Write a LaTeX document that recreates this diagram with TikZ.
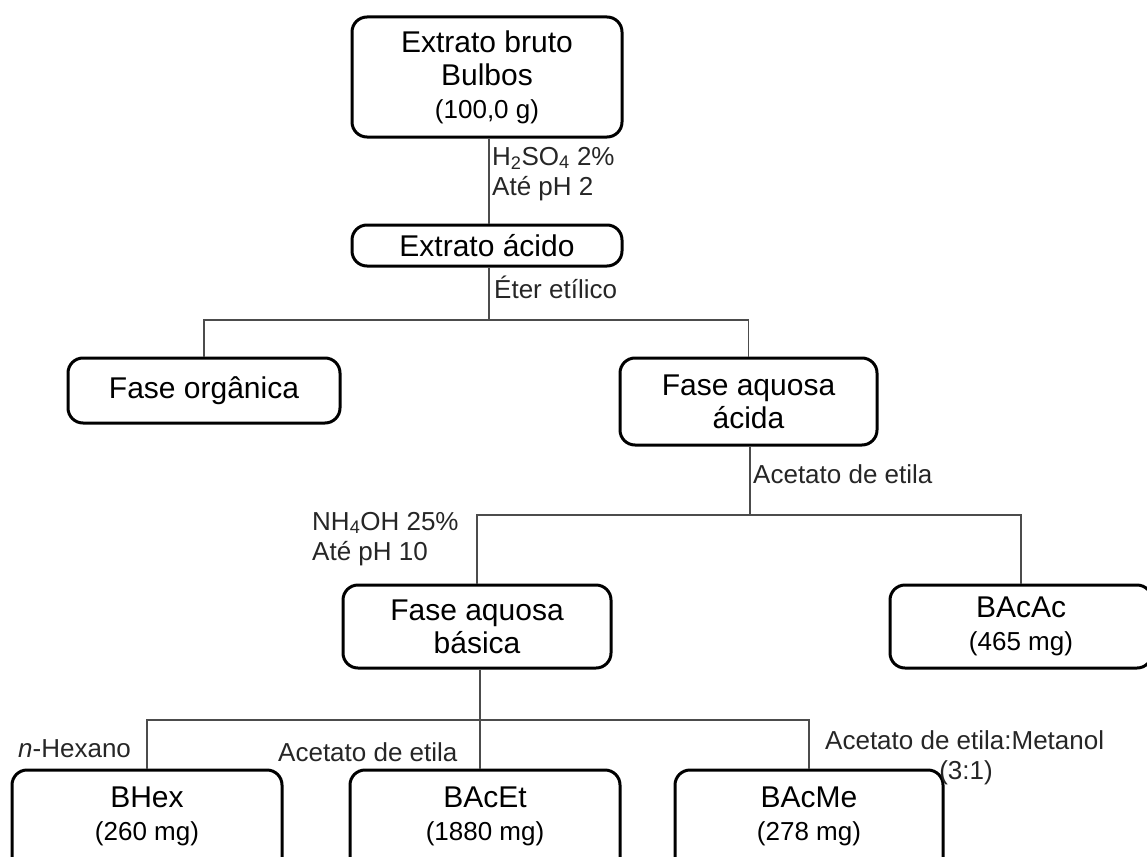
\documentclass[tikz,border=0pt]{standalone}
\usepackage{fontspec}
\setmainfont{Liberation Sans}
\begin{document}
\begin{tikzpicture}[x=1pt,y=-1pt,
  box/.style={draw=black, line width=3pt, rounded corners=15pt, fill=white,
    align=center, inner sep=0pt, font=\fontsize{30}{33}\selectfont},
  conn/.style={draw=black!70, line width=1.6pt},
  lbl/.style={anchor=base west, inner sep=0pt, font=\fontsize{26}{30}\selectfont, text=black!85},
  tx/.style={font=\fontsize{30}{33}\selectfont, align=center}]
\useasboundingbox (0,0) rectangle (1147,856);
\clip (0,0) rectangle (1147,856);

\node[box, minimum width=270pt, minimum height=120pt] (b1) at (487,77)
  {Extrato bruto\\Bulbos\\{\fontsize{26}{30}\selectfont (100,0 g)}};
\node[box, minimum width=270pt, minimum height=41pt] (b2) at (487,245.5) {Extrato ácido};
\node[box, minimum width=272pt, minimum height=65pt] (org) at (204,390.5) {Fase orgânica};
\node[box, minimum width=257pt, minimum height=87pt] (ac) at (748.5,401.5) {Fase aquosa\\ácida};
\node[box, minimum width=268pt, minimum height=83pt] (bas) at (477,626.5) {Fase aquosa\\básica};
\node[box, minimum width=262pt, minimum height=83pt] (bacac) at (1021,626.5)
  {BAcAc\\{\fontsize{26}{30}\selectfont (465 mg)}};
\node[box, minimum width=270pt, minimum height=104pt] (bhex) at (147,822) {};
\node[box, minimum width=270pt, minimum height=104pt] (bacet) at (485,822) {};
\node[box, minimum width=268pt, minimum height=104pt] (bacme) at (809,822) {};
\node[tx] (thex) at (147,816) {BHex\\{\fontsize{26}{30}\selectfont (260 mg)}};
\node[tx] (tacet) at (485,816) {BAcEt\\{\fontsize{26}{30}\selectfont (1880 mg)}};
\node[tx] (tacme) at (809,816) {BAcMe\\{\fontsize{26}{30}\selectfont (278 mg)}};

% connectors
\coordinate (j1) at (489,320);
\coordinate (j2) at (750,515);
\coordinate (j3) at (480,720);
\draw[conn] (b1.south -| j1) -- (b2.north -| j1);
\draw[conn] (b2.south -| j1) -- (j1);
\draw[conn] (org.north) -- (org.north |- j1) -- (j1) -- (ac.north |- j1) -- (ac.north);
\draw[conn] (ac.south -| j2) -- (j2);
\draw[conn] (bas.north) -- (bas.north |- j2) -- (j2) -- (bacac.north |- j2) -- (bacac.north);
\draw[conn] (bas.south -| j3) -- (bacet.north -| j3);
\draw[conn] (bhex.north) -- (bhex.north |- j3) -- (j3) -- (bacme.north |- j3) -- (bacme.north);

% labels
\node[lbl] (l1) at (492,165) {H\textsubscript{2}SO\textsubscript{4} 2\%};
\node[lbl] (l2) at (492,195) {Até pH 2};
\node[lbl] (l3) at (494,298) {Éter etílico};
\node[lbl] (l4) at (753,483) {Acetato de etila};
\node[lbl] (l5) at (312,530) {NH\textsubscript{4}OH 25\%};
\node[lbl] (l6) at (312,560) {Até pH 10};
\node[lbl] (l7) at (18,757) {\textit{n}-Hexano};
\node[lbl] (l8) at (278,761) {Acetato de etila};
\node[lbl] (l9) at (825,749) {Acetato de etila:Metanol};
\node[lbl, anchor=base] (l10) at (966,779) {(3:1)};
\end{tikzpicture}
\end{document}
